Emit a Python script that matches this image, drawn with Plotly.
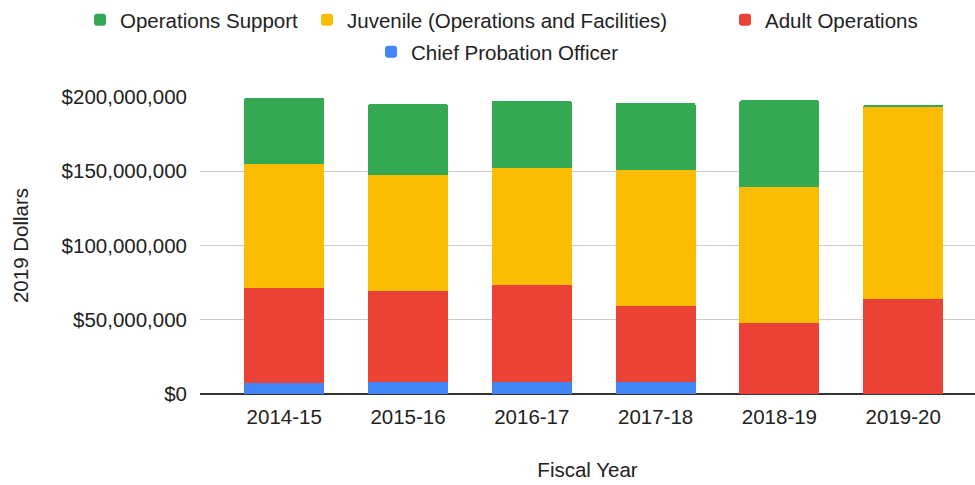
import plotly.graph_objects as go

years = ["2014-15", "2015-16", "2016-17", "2017-18", "2018-19", "2019-20"]
chief_probation = [7.4e6, 8.3e6, 8.3e6, 8.3e6, 0, 0]
adult_operations = [64.2e6, 61.1e6, 65.2e6, 51.0e6, 48.1e6, 63.8e6]
juvenile = [83.6e6, 78.4e6, 79.0e6, 91.4e6, 91.4e6, 129.7e6]
operations_support = [44.1e6, 47.3e6, 44.8e6, 45.3e6, 58.3e6, 0.7e6]
y_ticks = [0, 50e6, 100e6, 150e6, 200e6]

FONT = "Liberation Sans, Arial, sans-serif"
FS = 20.5
TXT = "#222222"
W, H = 975, 485

# legend name -> (left x px of entry, centre y px of entry)
legend_pos = {
    "legend": (80, 20),
    "legend3": (307, 20),
    "legend4": (725, 20),
    "legend2": (371, 52),
}

fig = go.Figure()
series = [
    ("Chief Probation Officer", chief_probation, "#4285f4", "legend2"),
    ("Adult Operations", adult_operations, "#ea4335", "legend4"),
    ("Juvenile (Operations and Facilities)", juvenile, "#fbbc04", "legend3"),
    ("Operations Support", operations_support, "#34a853", "legend"),
]
for name, vals, color, leg in series:
    fig.add_trace(go.Bar(x=years, y=vals, name=name, marker_color=color,
                         marker_line_width=0, legend=leg))

legends = {}
for leg, (lx, ly) in legend_pos.items():
    legends[leg] = dict(orientation="h", x=lx / W, xanchor="left", xref="container",
                        y=1 - ly / H, yanchor="middle", yref="container",
                        font=dict(size=FS, color=TXT), bgcolor="rgba(0,0,0,0)",
                        borderwidth=0)

fig.update_layout(
    width=W, height=H,
    barmode="stack",
    bargap=0.354,
    barcornerradius=2,
    paper_bgcolor="white", plot_bgcolor="white",
    margin=dict(l=200, r=0, t=97, b=91, autoexpand=False),
    font=dict(family=FONT, size=FS, color=TXT),
    showlegend=True,
    **legends,
)

fig.update_xaxes(
    type="category", range=[-0.68, 5.58], automargin=False,
    showgrid=False, showline=False, zeroline=False,
    ticks="", ticklabelstandoff=8,
    title=dict(text="Fiscal Year", standoff=36, font=dict(size=FS)),
)
fig.update_yaxes(
    range=[0, 200e6], tickvals=y_ticks, tickformat="$,.0f", automargin=False,
    showgrid=True, gridcolor="#cccccc", gridwidth=1,
    zeroline=True, zerolinecolor="#333333", zerolinewidth=1.5,
    showline=False, ticks="", ticklabelstandoff=12,
    title=dict(text="2019 Dollars", standoff=27, font=dict(size=FS)),
)

fig.write_html("out.html", config={"displayModeBar": False},
               post_script="document.body.style.margin='0';")
